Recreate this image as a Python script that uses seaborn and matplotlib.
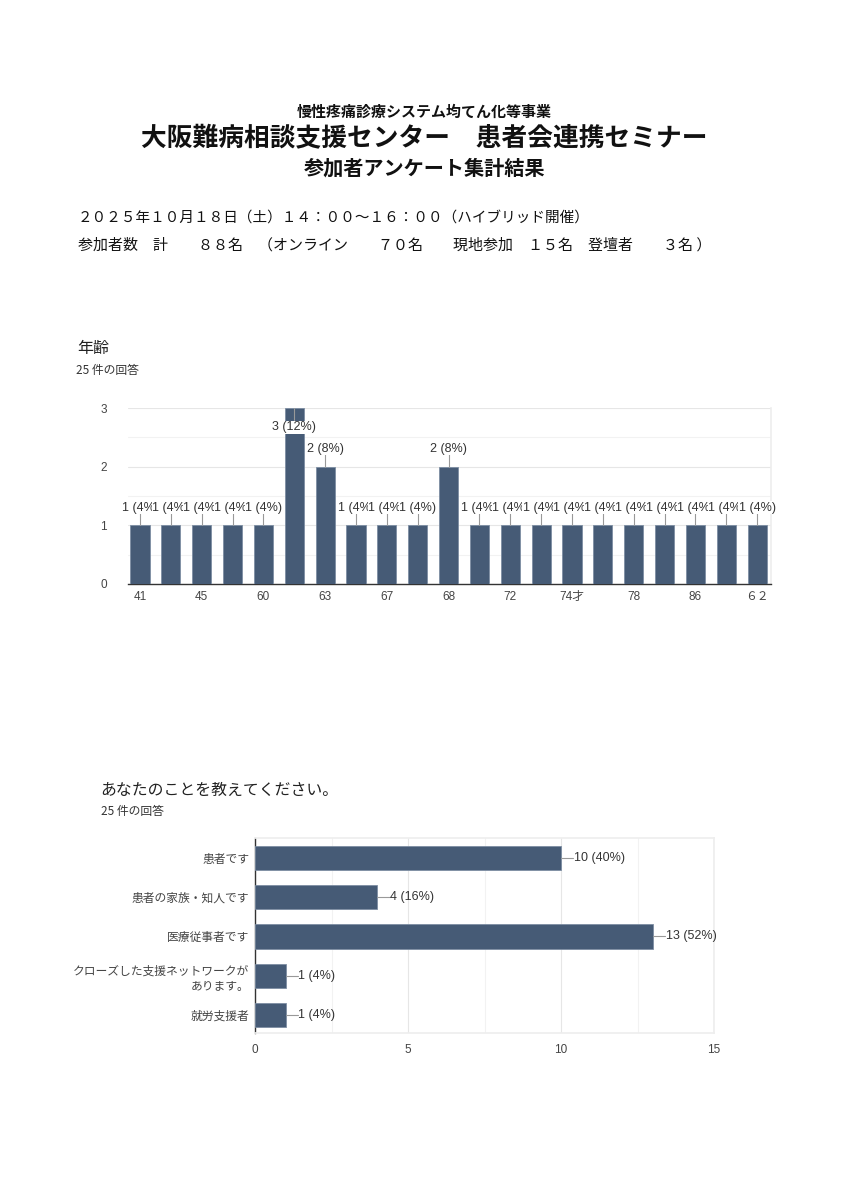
import matplotlib
matplotlib.use("Agg")
import matplotlib.pyplot as plt
import seaborn as sns
import numpy as np

sns.set_theme(style="white")
plt.rcParams['font.family'] = ['Noto Sans CJK JP', 'DejaVu Sans']

# ---- data ----
age_labels = ["41", "44", "45", "58", "60", "62", "63", "65", "67", "67歳", "68",
              "70", "72", "73", "74才", "76", "78", "80", "86", "88", "６２"]
age_counts = [1, 1, 1, 1, 1, 3, 2, 1, 1, 1, 2, 1, 1, 1, 1, 1, 1, 1, 1, 1, 1]
age_total = 25

role_labels = ["患者です", "患者の家族・知人です", "医療従事者です",
               "クローズした支援ネットワークが\nあります。", "就労支援者"]
role_counts = [10, 4, 13, 1, 1]
role_total = 25

bar_color = "#465b76"
tick_col = "#444444"
lab_font = ['Liberation Sans', 'Noto Sans CJK JP']

fig = plt.figure(figsize=(8.49, 12), dpi=100)

# ---- header texts ----
fig.text(0.5, 1 - 112/1200, "慢性疼痛診療システム均てん化等事業", ha="center", va="center",
         fontsize=10.8, fontweight="bold", color="#111")
fig.text(0.5, 1 - 139/1200, "大阪難病相談支援センター　患者会連携セミナー", ha="center", va="center",
         fontsize=18.5, fontweight="bold", color="#111")
fig.text(0.5, 1 - 168/1200, "参加者アンケート集計結果", ha="center", va="center",
         fontsize=14.5, fontweight="bold", color="#111")
fig.text(78/849, 1 - 218/1200, "２０２５年１０月１８日（土）１４：００～１６：００（ハイブリッド開催）",
         ha="left", va="center", fontsize=10.5, color="#111")
fig.text(78/849, 1 - 245/1200, "参加者数　計　　８８名　（オンライン　　７０名　　現地参加　１５名　登壇者　　３名 ）",
         ha="left", va="center", fontsize=10.8, color="#111")

fig.text(77/849, 1 - 349/1200, "年齢", ha="left", va="center", fontsize=11.5, color="#222")
fig.text(76/849, 1 - 371/1200, "25 件の回答", ha="left", va="center", fontsize=8.5, color="#333")
fig.text(100/849, 1 - 790/1200, "あなたのことを教えてください。", ha="left", va="center", fontsize=11.4, color="#222")
fig.text(101/849, 1 - 811/1200, "25 件の回答", ha="left", va="center", fontsize=8.5, color="#333")

# ---- age chart ----
ax1 = fig.add_axes([128/849, 1 - 584/1200, (771 - 128)/849, (584 - 408)/1200])
xpos = np.arange(len(age_labels))
sns.barplot(x=age_labels, y=age_counts, color=bar_color, width=0.62, ax=ax1,
            saturation=1, edgecolor="#7d8ea3", linewidth=0.6, zorder=3)
ax1.set_xlim(-0.39, len(age_labels) - 0.55)
ax1.set_ylim(0, 3)
ax1.set_yticks([0, 1, 2, 3])
ax1.set_yticks([0.5, 1.5, 2.5], minor=True)
ax1.grid(axis="y", which="major", color="#e6e6e6", linewidth=0.8, zorder=0)
ax1.grid(axis="y", which="minor", color="#f2f2f2", linewidth=0.8, zorder=0)
ax1.set_xticks(xpos[::2])
ax1.set_xticklabels(age_labels[::2], family=lab_font, fontsize=8.5, color=tick_col)
ax1.tick_params(axis="both", length=0)
ax1.tick_params(axis="x", pad=5)
for t in ax1.get_yticklabels():
    t.set_family(lab_font); t.set_fontsize(8.5); t.set_color(tick_col)
ax1.tick_params(axis="y", pad=15)
for s in ["top", "left"]:
    ax1.spines[s].set_visible(False)
ax1.spines["right"].set_color("#eeeeee")
ax1.spines["bottom"].set_color("#333333")
ax1.spines["bottom"].set_linewidth(1.0)
ax1.set_xlabel(""); ax1.set_ylabel("")

for i, v in enumerate(age_counts):
    pct = round(100 * v / age_total)
    txt = f"{v} ({pct}%)"
    if v >= 3:
        ax1.plot([i, i], [v, v - 0.2], color="#999999", lw=0.8, zorder=4, clip_on=False)
        ax1.text(i, v - 0.33, txt, ha="center", va="center", fontsize=9, color="#333",
                 family=lab_font, zorder=5 + i * 0.01,
                 bbox=dict(facecolor="white", edgecolor="none", pad=0.3))
    else:
        ax1.plot([i, i], [v, v + 0.22], color="#999999", lw=0.8, zorder=4)
        ax1.text(i, v + 0.30, txt, ha="center", va="center", fontsize=9, color="#333",
                 family=lab_font, zorder=5 + i * 0.01, clip_on=False,
                 bbox=dict(facecolor="white", edgecolor="none", pad=0.2))

# ---- role chart ----
ax2 = fig.add_axes([255/849, 1 - 1033/1200, (714 - 255)/849, (1033 - 838)/1200])
sns.barplot(x=role_counts, y=role_labels, orient="h", color=bar_color, width=0.62, ax=ax2,
            saturation=1, edgecolor="#7d8ea3", linewidth=0.6, zorder=3)
ax2.set_xlim(0, 15)
ax2.set_ylim(len(role_labels) - 0.54, -0.51)
ax2.set_xticks([0, 5, 10, 15])
ax2.set_xticks([2.5, 7.5, 12.5], minor=True)
ax2.grid(axis="x", which="major", color="#e6e6e6", linewidth=0.8, zorder=0)
ax2.grid(axis="x", which="minor", color="#f2f2f2", linewidth=0.8, zorder=0)
ax2.tick_params(axis="both", length=0)
ax2.tick_params(axis="x", pad=8)
ax2.tick_params(axis="y", pad=4)
for t in ax2.get_xticklabels() + ax2.get_yticklabels():
    t.set_family(lab_font); t.set_fontsize(8.5); t.set_color(tick_col)
for t in ax2.get_yticklabels():
    t.set_linespacing(1.4)
ax2.spines["top"].set_color("#eeeeee")
ax2.spines["right"].set_color("#eeeeee")
ax2.spines["bottom"].set_color("#eeeeee")
ax2.spines["left"].set_color("#333333")
ax2.spines["left"].set_linewidth(1.0)
ax2.set_xlabel(""); ax2.set_ylabel("")

for i, v in enumerate(role_counts):
    pct = round(100 * v / role_total)
    ax2.plot([v, v + 0.4], [i, i], color="#999999", lw=0.8, zorder=4, clip_on=False)
    ax2.text(v + 0.42, i, f"{v} ({pct}%)", ha="left", va="center", fontsize=9,
             color="#333", family=lab_font, zorder=5, clip_on=False)

fig.savefig("out.png", dpi=100, facecolor="white")
